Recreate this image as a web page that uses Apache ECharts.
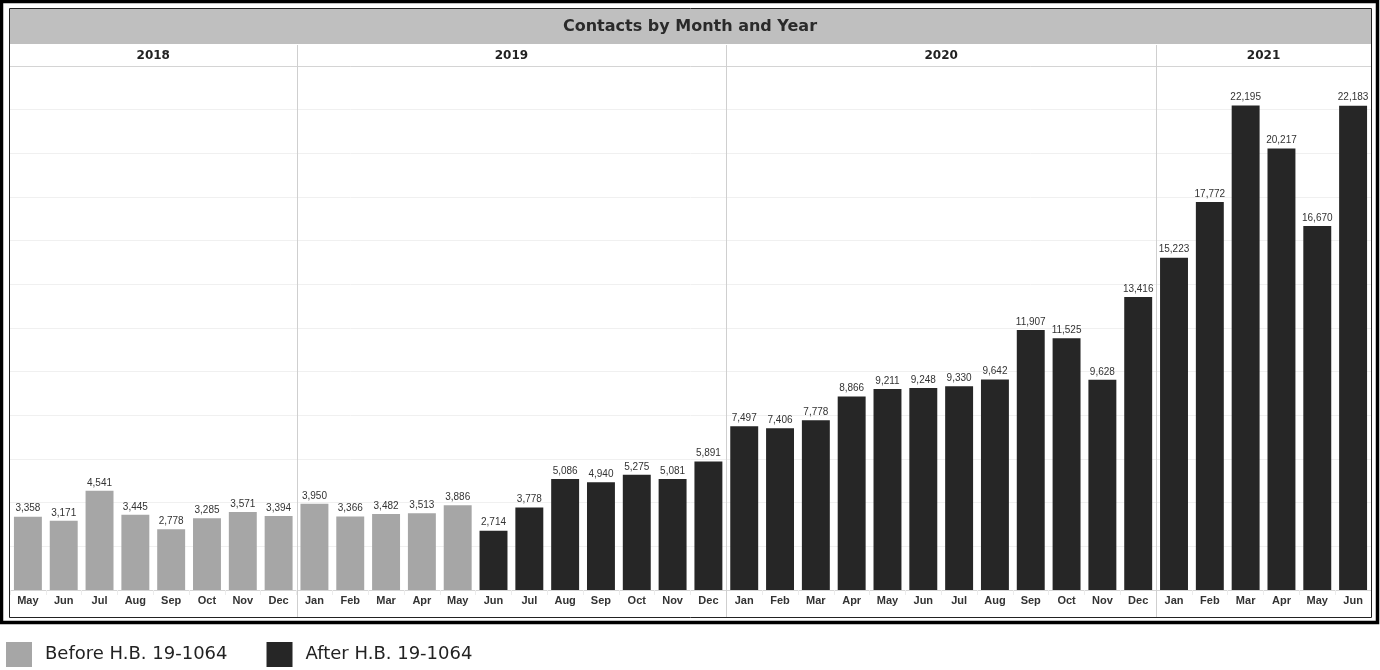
<!DOCTYPE html>
<html>
<head>
<meta charset="utf-8">
<script src="https://cdn.jsdelivr.net/npm/echarts@6/dist/echarts.min.js"></script>
<style>
  html, body { margin: 0; padding: 0; background: #fff; }
  #chart { width: 1380px; height: 670px; }
</style>
</head>
<body>
<div id="chart"></div>
<script>
// months shown along the bottom, one per bar
var months = ['May','Jun','Jul','Aug','Sep','Oct','Nov','Dec',
  'Jan','Feb','Mar','Apr','May','Jun','Jul','Aug','Sep','Oct','Nov','Dec',
  'Jan','Feb','Mar','Apr','May','Jun','Jul','Aug','Sep','Oct','Nov','Dec',
  'Jan','Feb','Mar','Apr','May','Jun']
// year headers and how many months each one covers
var years = ['2018', '2019', '2020', '2021']
var yearMonths = [8, 12, 12, 6]

var beforeVals = [3358, 3171, 4541, 3445, 2778, 3285, 3571, 3394,
  3950, 3366, 3482, 3513, 3886, '-', '-', '-', '-', '-', '-', '-',
  '-', '-', '-', '-', '-', '-', '-', '-', '-', '-', '-', '-',
  '-', '-', '-', '-', '-', '-']
var afterVals = ['-', '-', '-', '-', '-', '-', '-', '-',
  '-', '-', '-', '-', '-', 2714, 3778, 5086, 4940, 5275, 5081, 5891,
  7497, 7406, 7778, 8866, 9211, 9248, 9330, 9642, 11907, 11525, 9628, 13416,
  15223, 17772, 22195, 20217, 16670, 22183]

var myColor = ['#a6a6a6', '#262626']

var labelStyle = {
  show: true,
  position: 'top',
  distance: 3,
  color: '#333',
  fontSize: 10,
  fontFamily: 'Liberation Sans',
  formatter: function (p) {
    return p.value.toLocaleString('en-US')
  }
}

var option = {
  animation: false,
  grid: {
    left: 10,
    right: 9,
    top: 66,
    bottom: 80
  },
  legend: {
    left: 6,
    top: 642,
    padding: 0,
    itemWidth: 26,
    itemHeight: 25,
    itemGap: 39,
    icon: 'rect',
    selectedMode: false,
    textStyle: {
      fontFamily: 'DejaVu Sans',
      fontSize: 18,
      color: '#222',
      padding: [5, 0, 0, 8]
    },
    data: ['Before H.B. 19-1064', 'After H.B. 19-1064']
  },
  xAxis: {
    type: 'category',
    data: months,
    axisLine: { lineStyle: { color: '#d4d4d4' } },
    axisTick: { show: true, length: 5, lineStyle: { color: '#ececec' } },
    axisLabel: {
      color: '#333',
      fontSize: 11,
      fontWeight: 'bold',
      fontFamily: 'Liberation Sans',
      margin: 5,
      interval: 0
    }
  },
  yAxis: {
    type: 'value',
    min: 0,
    max: 24000,
    interval: 2000,
    axisLabel: { show: false },
    axisLine: { show: false },
    axisTick: { show: false },
    splitLine: { lineStyle: { color: '#f0f0f0' } }
  },
  series: [
    {
      name: 'Before H.B. 19-1064',
      type: 'bar',
      stack: 'all',
      data: beforeVals,
      barCategoryGap: '22%',
      itemStyle: { color: myColor[0] },
      label: labelStyle
    },
    {
      name: 'After H.B. 19-1064',
      type: 'bar',
      stack: 'all',
      data: afterVals,
      barCategoryGap: '22%',
      itemStyle: { color: myColor[1] },
      label: labelStyle
    }
  ]
};

var myChart = echarts.init(document.getElementById('chart'))
myChart.setOption(option)

// frame, title bar, year headers and dividers placed from the category axis
function centerX(i) {
  return myChart.convertToPixel({ xAxisIndex: 0 }, i)
}
var step = centerX(1) - centerX(0)
var left = centerX(0) - step / 2
var elements = [
  { type: 'rect', shape: { x: 1.5, y: 1.5, width: 1376, height: 621 },
    style: { fill: 'none', stroke: '#000', lineWidth: 3.5 }, z: 10 },
  { type: 'rect', shape: { x: 9.5, y: 8.5, width: 1362, height: 609 },
    style: { fill: 'none', stroke: '#222', lineWidth: 1 }, z: 10 },
  { type: 'rect', shape: { x: 10, y: 9, width: 1361, height: 35 },
    style: { fill: '#bfbfbf' }, z: 5 },
  { type: 'text', x: 690, y: 27,
    style: { text: 'Contacts by Month and Year', fill: '#2a2a2a', font: 'bold 16px "DejaVu Sans"',
      textAlign: 'center', textVerticalAlign: 'middle' }, z: 6 },
  { type: 'line', shape: { x1: 10, y1: 66.5, x2: 1371, y2: 66.5 },
    style: { stroke: '#d4d4d4', lineWidth: 1 }, z: 5 }
]
var start = 0
for (var k = 0; k < years.length; k++) {
  var x0 = left + start * step
  var x1 = left + (start + yearMonths[k]) * step
  elements.push({ type: 'text', x: (x0 + x1) / 2, y: 56,
    style: { text: years[k], fill: '#222', font: 'bold 12px "DejaVu Sans"',
      textAlign: 'center', textVerticalAlign: 'middle' }, z: 6 })
  if (k > 0) {
    var xr = Math.round(x0) + 0.5
    elements.push({ type: 'line', shape: { x1: xr, y1: 45, x2: xr, y2: 617 },
      style: { stroke: '#cfcfcf', lineWidth: 1 }, z: 5 })
  }
  start += yearMonths[k]
}
myChart.setOption({ graphic: elements })
</script>
</body>
</html>
